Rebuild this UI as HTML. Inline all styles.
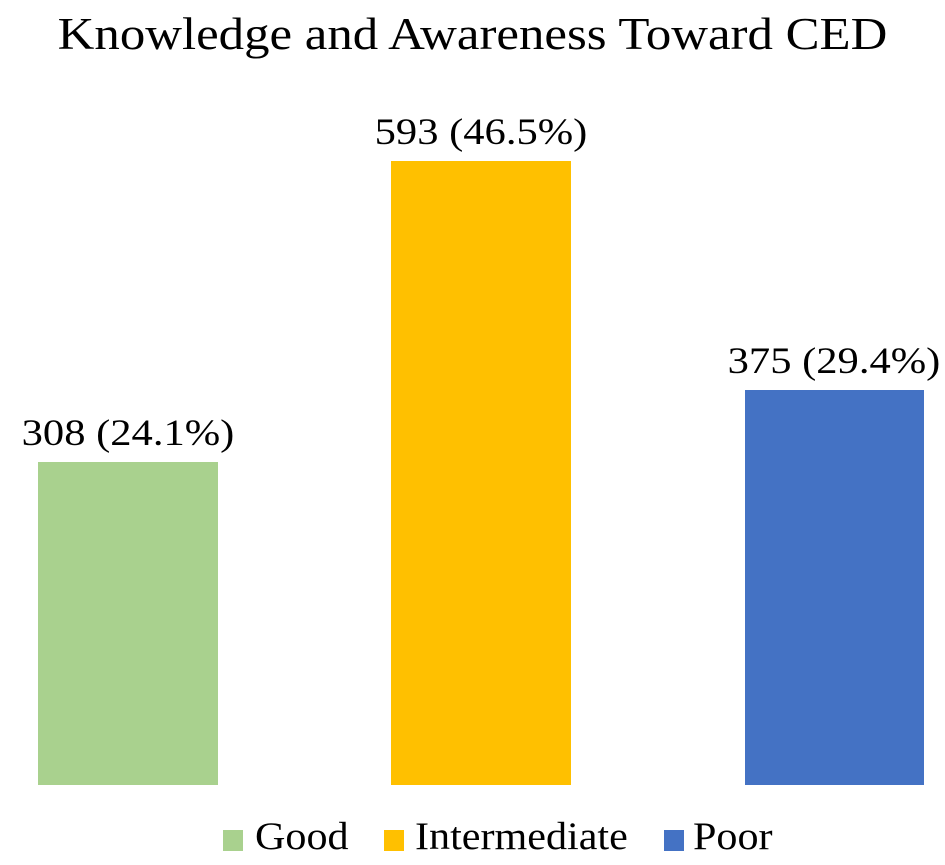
<!DOCTYPE html>
<html><head><style>
body{margin:0;width:945px;height:865px;background:#fff;position:relative;overflow:hidden;font-family:"Liberation Serif",serif;color:#000}
div{position:absolute}
.lbl{font-size:37px;white-space:nowrap;text-align:center;width:300px;transform:scaleX(1.15)}
.sq{width:20px;height:21px;top:830px}
.lg{font-size:39px;top:814px;white-space:nowrap;transform:scaleX(1.08);transform-origin:left center}
</style></head><body>
<div style="left:0;width:945px;top:8px;text-align:center;font-size:45px;white-space:nowrap;transform:scaleX(1.13)">Knowledge and Awareness Toward CED</div>
<div style="left:38px;width:180px;top:462px;height:323px;background:#a9d18e"></div>
<div style="left:391px;width:180px;top:161px;height:624px;background:#ffc000"></div>
<div style="left:745px;width:179px;top:390px;height:395px;background:#4472c4"></div>
<div class="lbl" style="left:-22px;top:412px">308 (24.1%)</div>
<div class="lbl" style="left:331px;top:111px">593 (46.5%)</div>
<div class="lbl" style="left:684px;top:340px">375 (29.4%)</div>
<div class="sq" style="left:223px;background:#a9d18e"></div>
<div class="lg" style="left:255px">Good</div>
<div class="sq" style="left:384px;background:#ffc000"></div>
<div class="lg" style="left:415px">Intermediate</div>
<div class="sq" style="left:664px;background:#4472c4"></div>
<div class="lg" style="left:693px">Poor</div>
</body></html>
